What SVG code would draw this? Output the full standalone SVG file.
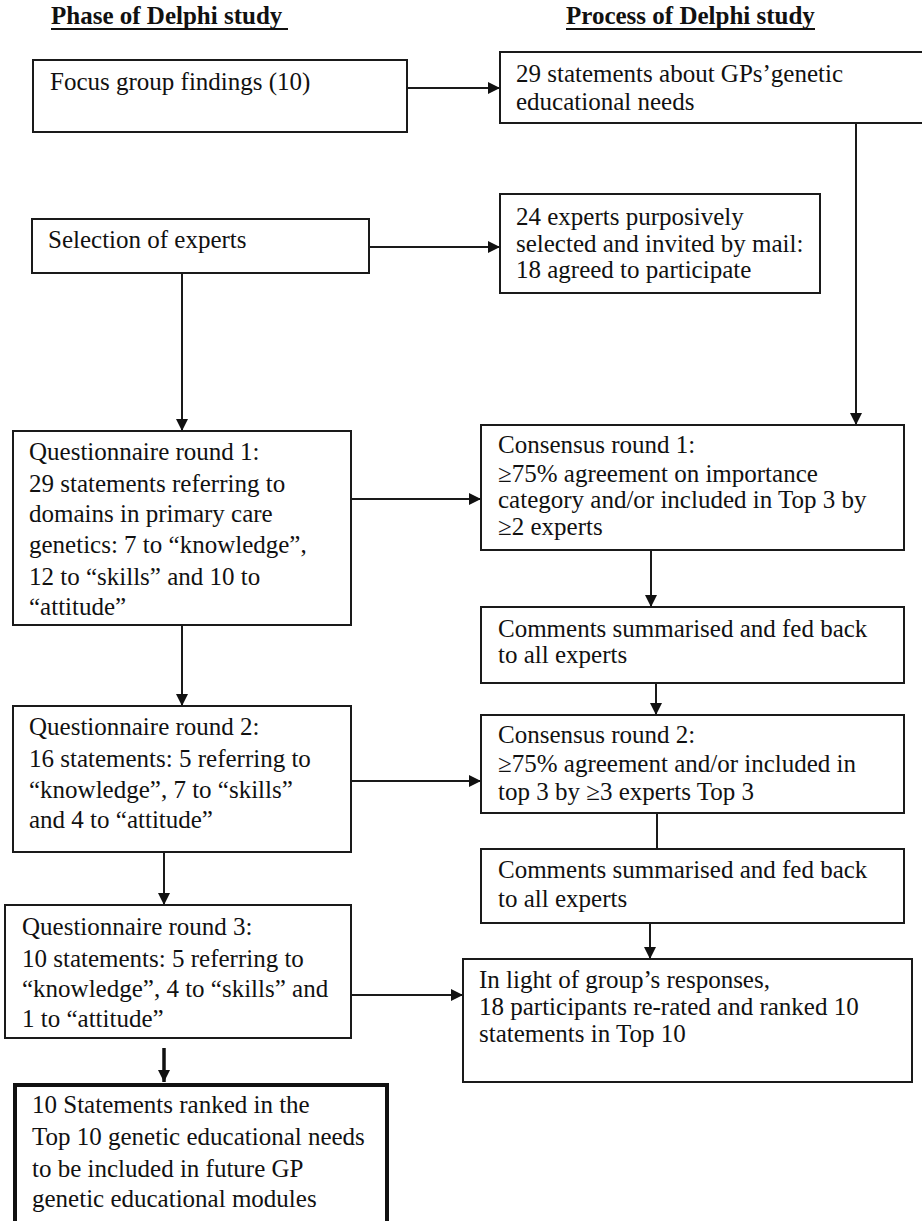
<svg xmlns="http://www.w3.org/2000/svg" width="922" height="1221" viewBox="0 0 922 1221">
<defs>
<style>
.box{fill:#fff;stroke:#1a1a1a;stroke-width:2}
.thick{fill:#fff;stroke:#111;stroke-width:4}
.t{font-family:"Liberation Serif","Times New Roman",serif;font-size:25px;fill:#111}
.h{font-family:"Liberation Serif","Times New Roman",serif;font-size:25px;font-weight:bold;fill:#111}
.c{stroke:#1a1a1a;stroke-width:2;fill:none}
.ct{stroke:#111;stroke-width:3.5;fill:none}
</style>
<marker id="ah" viewBox="0 0 12 12" refX="12" refY="6" markerWidth="12" markerHeight="12" markerUnits="userSpaceOnUse" orient="auto">
<path d="M0,0 L12,6 L0,12 z" fill="#111"/>
</marker>
</defs>
<rect width="922" height="1221" fill="#fff"/>
<g id="titles">
<text class="h" x="51" y="24">Phase of Delphi study</text>
<line x1="51" y1="29" x2="288" y2="29" stroke="#111" stroke-width="2"/>
<text class="h" x="566" y="24">Process of Delphi study</text>
<line x1="566" y1="29" x2="815" y2="29" stroke="#111" stroke-width="2"/>
</g>
<g id="connectors">
<line class="c" x1="407" y1="88" x2="500" y2="88" marker-end="url(#ah)"/>
<line class="c" x1="856" y1="123" x2="856" y2="425" marker-end="url(#ah)"/>
<line class="c" x1="369" y1="247" x2="500" y2="247" marker-end="url(#ah)"/>
<line class="c" x1="182" y1="273" x2="182" y2="431" marker-end="url(#ah)"/>
<line class="c" x1="351" y1="499" x2="481" y2="499" marker-end="url(#ah)"/>
<line class="c" x1="651" y1="550" x2="651" y2="607" marker-end="url(#ah)"/>
<line class="c" x1="656" y1="683" x2="656" y2="715" marker-end="url(#ah)"/>
<line class="c" x1="182" y1="625" x2="182" y2="706" marker-end="url(#ah)"/>
<line class="c" x1="351" y1="781" x2="481" y2="781" marker-end="url(#ah)"/>
<line class="c" x1="657" y1="813" x2="657" y2="849"/>
<line class="c" x1="650" y1="923" x2="650" y2="959" marker-end="url(#ah)"/>
<line class="c" x1="164" y1="852" x2="164" y2="905" marker-end="url(#ah)"/>
<line class="c" x1="351" y1="995" x2="463" y2="995" marker-end="url(#ah)"/>
<line class="ct" x1="164" y1="1048" x2="164" y2="1082" marker-end="url(#ah)"/>
</g>
<g id="focus">
<rect class="box" x="33" y="60" width="374" height="72"/>
<text class="t" x="50" y="90">Focus group findings (10)</text>
</g>
<g id="statements29">
<rect class="box" x="500" y="52" width="430" height="71"/>
<text class="t" x="516" y="82">29 statements about GPs’genetic</text>
<text class="t" x="516" y="110">educational needs</text>
</g>
<g id="selection">
<rect class="box" x="32" y="219" width="337" height="54"/>
<text class="t" x="48" y="248">Selection of experts</text>
</g>
<g id="experts24">
<rect class="box" x="500" y="194" width="320" height="99"/>
<text class="t" x="516" y="225">24 experts purposively</text>
<text class="t" x="516" y="252">selected and invited by mail:</text>
<text class="t" x="516" y="278">18 agreed to participate</text>
</g>
<g id="q1">
<rect class="box" x="13" y="431" width="338" height="194"/>
<text class="t" x="29" y="460">Questionnaire round 1:</text>
<text class="t" x="29" y="492">29 statements referring to</text>
<text class="t" x="29" y="522">domains in primary care</text>
<text class="t" x="29" y="553">genetics: 7 to “knowledge”,</text>
<text class="t" x="29" y="585">12 to “skills” and 10 to</text>
<text class="t" x="29" y="615">“attitude”</text>
</g>
<g id="c1">
<rect class="box" x="481" y="425" width="423" height="125"/>
<text class="t" x="498" y="453">Consensus round 1:</text>
<text class="t" x="498" y="482">≥75% agreement on importance</text>
<text class="t" x="498" y="508">category and/or included in Top 3 by</text>
<text class="t" x="498" y="535">≥2 experts</text>
</g>
<g id="com1">
<rect class="box" x="481" y="607" width="423" height="76"/>
<text class="t" x="498" y="637">Comments summarised and fed back</text>
<text class="t" x="498" y="663">to all experts</text>
</g>
<g id="q2">
<rect class="box" x="13" y="706" width="338" height="146"/>
<text class="t" x="29" y="735">Questionnaire round 2:</text>
<text class="t" x="29" y="767">16 statements: 5 referring to</text>
<text class="t" x="29" y="798">“knowledge”, 7 to “skills”</text>
<text class="t" x="29" y="828">and 4 to “attitude”</text>
</g>
<g id="c2">
<rect class="box" x="481" y="715" width="423" height="98"/>
<text class="t" x="498" y="743">Consensus round 2:</text>
<text class="t" x="498" y="772">≥75% agreement and/or included in</text>
<text class="t" x="498" y="800">top 3 by ≥3 experts Top 3</text>
</g>
<g id="com2">
<rect class="box" x="481" y="849" width="423" height="74"/>
<text class="t" x="498" y="878">Comments summarised and fed back</text>
<text class="t" x="498" y="907">to all experts</text>
</g>
<g id="q3">
<rect class="box" x="5" y="905" width="346" height="133"/>
<text class="t" x="22" y="935">Questionnaire round 3:</text>
<text class="t" x="22" y="967">10 statements: 5 referring to</text>
<text class="t" x="22" y="997">“knowledge”, 4 to “skills” and</text>
<text class="t" x="22" y="1027">1 to “attitude”</text>
</g>
<g id="rerated">
<rect class="box" x="463" y="959" width="449" height="123"/>
<text class="t" x="479" y="988">In light of group’s responses,</text>
<text class="t" x="479" y="1015">18 participants re-rated and ranked 10</text>
<text class="t" x="479" y="1042">statements in Top 10</text>
</g>
<g id="final">
<rect class="thick" x="15" y="1085" width="372" height="160"/>
<text class="t" x="32" y="1113">10 Statements ranked in the</text>
<text class="t" x="32" y="1145">Top 10 genetic educational needs</text>
<text class="t" x="32" y="1177">to be included in future GP</text>
<text class="t" x="32" y="1207">genetic educational modules</text>
</g>
</svg>
